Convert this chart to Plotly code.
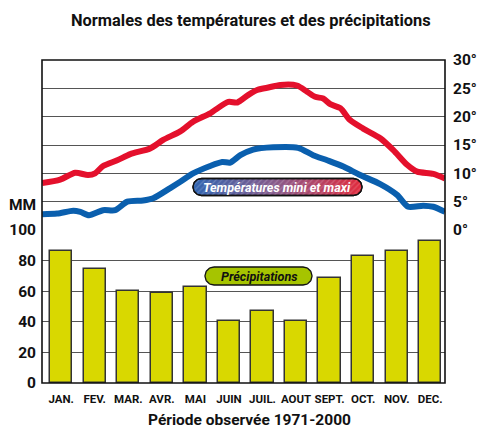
import numpy as np
import plotly.graph_objects as go

# ---------------- data ----------------
months = ["JAN.", "FEV.", "MAR.", "AVR.", "MAI", "JUIN", "JUIL.", "AOUT", "SEPT.", "OCT.", "NOV.", "DEC."]
precip_mm = [86, 74.5, 60, 58.7, 62.7, 40.4, 47, 40.4, 68.8, 83.2, 86, 93]

# temperature curves (x in month units, 0 = January centre)
tmax_x = [-0.57, -0.03, 0.42, 0.80, 1.01, 1.25, 1.67, 2.06, 2.65, 3.04, 3.55, 3.93, 4.44, 4.98, 5.25,
          5.57, 5.84, 6.14, 6.53, 7.03, 7.33, 7.57, 7.81, 8.02, 8.32, 8.61, 9.00, 9.51, 9.90, 10.31,
          10.61, 11.09, 11.44]
tmax_y = [8.3, 8.9, 10.1, 9.7, 10.0, 11.3, 12.3, 13.4, 14.4, 15.9, 17.4, 19.1, 20.6, 22.6, 22.5,
          23.8, 24.7, 25.1, 25.6, 25.5, 24.4, 23.5, 23.2, 22.2, 21.5, 19.4, 17.9, 16.2, 14.1, 11.5,
          10.3, 9.9, 9.1]
tmin_x = [-0.57, -0.12, 0.36, 0.57, 0.83, 1.25, 1.61, 1.97, 2.44, 2.74, 3.25, 3.55, 3.93, 4.44, 4.80,
          5.04, 5.34, 5.72, 6.32, 7.06, 7.51, 7.93, 8.41, 8.91, 9.51, 10.01, 10.34, 10.79, 11.09, 11.44]
tmin_y = [2.8, 2.9, 3.4, 3.2, 2.6, 3.5, 3.5, 5.0, 5.2, 5.6, 7.4, 8.5, 10.0, 11.3, 12.0,
          11.9, 13.2, 14.2, 14.6, 14.5, 13.2, 12.3, 11.2, 9.7, 8.1, 6.2, 4.1, 4.3, 4.1, 3.2]

mm_ticks = [0, 20, 40, 60, 80, 100]
temp_ticks = [0, 5, 10, 15, 20, 25, 30]
temp_labels = ["0°", "5°", "10°", "15°", "20°", "25°", "30°"]

title_text = "Normales des températures et des précipitations"
xtitle_text = "Période observée 1971-2000"
legend_temp = "Températures mini et maxi"
legend_prec = "Précipitations"

# ---------------- layout geometry (pixels) ----------------
W, H = 481, 430
FONT = "Roboto, Liberation Sans, sans-serif"
x_left, x_right = 42, 445
y_top, y_mid, y_bot = 60, 230, 383

def fx(px):
    return px / W

def fy(py):
    return 1 - py / H

def pill(x0, x1, y0, y1, n=30):
    r = (y1 - y0) / 2
    cy = (y0 + y1) / 2
    a1 = np.linspace(np.pi / 2, 3 * np.pi / 2, n)
    a2 = np.linspace(-np.pi / 2, np.pi / 2, n)
    xs = list(x0 + r + r * np.cos(a1)) + list(x1 - r + r * np.cos(a2))
    ys = list(cy - r * np.sin(a1)) + list(cy - r * np.sin(a2))
    xs.append(xs[0]); ys.append(ys[0])
    return xs, ys

fig = go.Figure()

# precipitation bars (bottom panel)
fig.add_trace(go.Bar(
    x=list(range(len(months))), y=precip_mm, width=0.665,
    marker=dict(color="#d9d800", line=dict(color="#333333", width=1.5)),
    xaxis="x", yaxis="y", showlegend=False, hoverinfo="skip"))

# temperature lines (top panel)
fig.add_trace(go.Scatter(x=tmax_x, y=tmax_y, mode="lines", xaxis="x2", yaxis="y2",
                         line=dict(color="#e4102c", width=6, shape="spline", smoothing=0.7),
                         showlegend=False, hoverinfo="skip"))
fig.add_trace(go.Scatter(x=tmin_x, y=tmin_y, mode="lines", xaxis="x2", yaxis="y2",
                         line=dict(color="#0a5fae", width=6, shape="spline", smoothing=0.7),
                         showlegend=False, hoverinfo="skip"))

# legend badges on an overlay pixel axis
px_, py_ = pill(193, 362, 178.5, 195.5)
fig.add_trace(go.Scatter(x=px_, y=py_, mode="lines", fill="toself", xaxis="x3", yaxis="y3",
                         line=dict(color="#111111", width=1.3),
                         fillgradient=dict(type="horizontal",
                                           colorscale=[[0, "#2f64b0"], [0.5, "#8a5a8a"], [1, "#e22a3c"]]),
                         showlegend=False, hoverinfo="skip"))
fig.add_trace(go.Scatter(x=px_, y=py_, mode="lines", fill="toself", xaxis="x3", yaxis="y3",
                         line=dict(color="#111111", width=1.3), fillcolor="rgba(0,0,0,0)",
                         fillpattern=dict(shape="/", fgcolor="white", fgopacity=0.18, size=4, solidity=0.3),
                         showlegend=False, hoverinfo="skip"))
qx, qy = pill(205, 312, 267, 285)
fig.add_trace(go.Scatter(x=qx, y=qy, mode="lines", fill="toself", xaxis="x3", yaxis="y3",
                         line=dict(color="#111111", width=1.3), fillcolor="#a6c400",
                         showlegend=False, hoverinfo="skip"))

axis_font = dict(family=FONT, size=15.5, color="#111111", weight="bold")

fig.update_layout(
    width=W, height=H, autosize=False,
    margin=dict(l=0, r=0, t=0, b=0, pad=0, autoexpand=False),
    paper_bgcolor="white", plot_bgcolor="rgba(0,0,0,0)",
    bargap=0,
    xaxis=dict(domain=[fx(x_left), fx(x_right)], range=[-0.572, 11.44], anchor="y",
               tickmode="array", tickvals=list(range(12)), ticktext=months, tickangle=0,
               tickfont=dict(family=FONT, size=11.5, color="#111111", weight="bold"),
               ticks="", showgrid=False, zeroline=False, showline=False, ticklabelstandoff=7,
               automargin=False),
    yaxis=dict(domain=[fy(y_bot), fy(y_mid)], range=[0, 100], anchor="x",
               tickmode="array", tickvals=mm_ticks, ticktext=[str(v) for v in mm_ticks],
               tickfont=axis_font, ticks="", showgrid=True, gridcolor="#555555", gridwidth=1,
               zeroline=False, showline=False, ticklabelstandoff=5, automargin=False),
    xaxis2=dict(domain=[fx(x_left), fx(x_right)], range=[-0.572, 11.44], anchor="y2",
                visible=False, showgrid=False, automargin=False),
    yaxis2=dict(domain=[fy(y_mid), fy(y_top)], range=[0, 30], anchor="x2", side="right",
                tickmode="array", tickvals=temp_ticks, ticktext=temp_labels,
                tickfont=axis_font, ticks="", showgrid=True, gridcolor="#555555", gridwidth=1,
                zeroline=False, showline=False, ticklabelstandoff=7, automargin=False),
    xaxis3=dict(domain=[0, 1], range=[0, W], anchor="y3", visible=False, fixedrange=True,
                automargin=False),
    yaxis3=dict(domain=[0, 1], range=[H, 0], anchor="x3", visible=False, fixedrange=True,
                automargin=False),
    shapes=[dict(type="rect", xref="paper", yref="paper",
                 x0=fx(x_left), x1=fx(x_right), y0=fy(y_bot), y1=fy(y_top),
                 line=dict(color="#111111", width=1.6), layer="above")],
    annotations=[
        dict(text=title_text, xref="x3", yref="y3", x=251, y=20, showarrow=False,
             font=dict(family=FONT, size=16.4, color="#111111", weight="bold")),
        dict(text=xtitle_text, xref="x3", yref="y3", x=249, y=419.5, showarrow=False,
             font=dict(family=FONT, size=15.5, color="#111111", weight="bold")),
        dict(text="MM", xref="x3", yref="y3", x=22, y=205, showarrow=False,
             font=axis_font),
        dict(text="<i>" + legend_temp + "</i>", xref="x3", yref="y3", x=277, y=187, showarrow=False,
             font=dict(family=FONT, size=12.6, color="white", weight="bold")),
        dict(text="<i>" + legend_prec + "</i>", xref="x3", yref="y3", x=259, y=276, showarrow=False,
             font=dict(family=FONT, size=12.6, color="#111111", weight="bold")),
    ],
)

fig.write_html("out.html", config={"displayModeBar": False},
               post_script="document.body.style.margin='0';document.body.style.overflow='hidden';")
